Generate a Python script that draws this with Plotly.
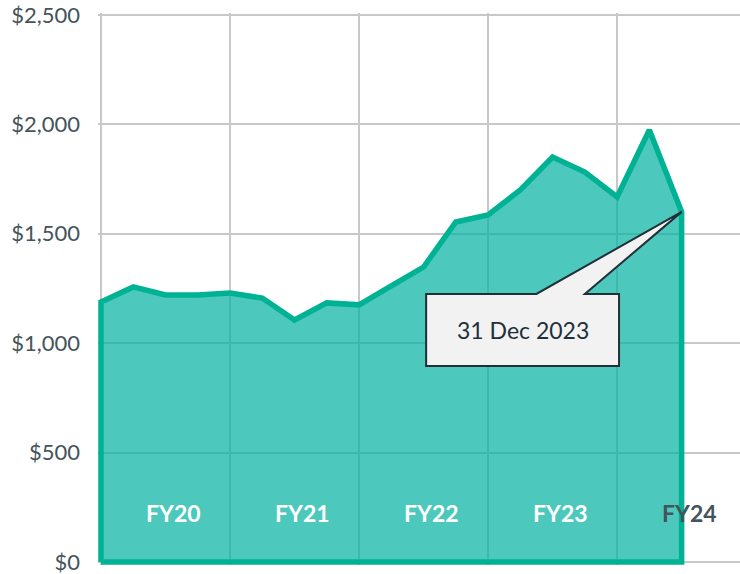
import plotly.graph_objects as go

# quarterly values, Q1 FY20 .. Q3 FY24 (31 Dec 2023)
values = [1188, 1257, 1220, 1220, 1229, 1206, 1106, 1184, 1175, 1262,
          1348, 1554, 1586, 1700, 1851, 1782, 1668, 1974, 1600]
quarters = list(range(len(values)))

fy_labels = ["FY20", "FY21", "FY22", "FY23", "FY24"]
fy_pos = [2, 6, 10, 14, 18]

y_ticks = [0, 500, 1000, 1500, 2000, 2500]
y_ticktext = ["$0", "$500", "$1,000", "$1,500", "$2,000", "$2,500"]

callout_text = "31 Dec 2023"

LINE = "#00B294"
FILL = "rgba(0,178,160,0.70)"
TEXT = "#44545A"

# closed outline: down the left edge, along the data, down the right edge
xs = [quarters[0]] + quarters + [quarters[-1], quarters[0]]
ys = [0] + values + [0, 0]

fig = go.Figure()
fig.add_trace(go.Scatter(
    x=xs, y=ys,
    mode="lines",
    fill="toself",
    fillcolor=FILL,
    line=dict(color=LINE, width=5.5),
    hoverinfo="skip",
    showlegend=False
))

# FY labels inside the area
for i, (lab, pos) in enumerate(zip(fy_labels, fy_pos)):
    fig.add_annotation(
        x=pos, y=224, text=f"<b>{lab}</b>", showarrow=False, xshift=8,
        font=dict(family="Lato", size=23,
                  color=TEXT if i == len(fy_labels) - 1 else "white")
    )

# callout box with wedge pointing at last point
tip_x, tip_y = quarters[-1], values[-1]
bx0, bx1, by0, by1 = tip_x - 7.92, tip_x - 1.94, 896, 1225
w0, w1 = tip_x - 4.5, tip_x - 3.0
path = (f"M {bx0},{by0} L {bx0},{by1} L {w0},{by1} L {tip_x},{tip_y} "
        f"L {w1},{by1} L {bx1},{by1} L {bx1},{by0} Z")
fig.add_shape(type="path", path=path, xref="x", yref="y",
              fillcolor="#F2F2F2", line=dict(color="#1F3038", width=2))
fig.add_annotation(
    x=(bx0 + bx1) / 2, y=(by0 + by1) / 2, text=callout_text, showarrow=False,
    font=dict(family="Lato", size=23, color="#1F3038")
)

fig.update_layout(
    width=740, height=574,
    margin=dict(l=98, r=0, t=13, b=9),
    plot_bgcolor="white",
    paper_bgcolor="white",
    font=dict(family="Lato", color=TEXT),
    xaxis=dict(
        range=[-0.093, 19.81], dtick=4, tick0=0,
        showticklabels=False, showgrid=True, gridcolor="#C8C8C8",
        gridwidth=2, zeroline=False, showline=False, automargin=False
    ),
    yaxis=dict(
        range=[-14, 2509], tickvals=y_ticks, ticktext=y_ticktext,
        showgrid=True, gridcolor="#C8C8C8", gridwidth=2,
        zeroline=False, showline=False, automargin=False,
        ticklabeloverflow="allow",
        tickfont=dict(family="Lato", size=22, color=TEXT),
        ticklabelstandoff=17
    )
)

# drop the default 8px page margin so the figure sits at the window corner
fig.write_html("out.html", config={"displayModeBar": False},
               post_script="document.body.style.margin='0';")
